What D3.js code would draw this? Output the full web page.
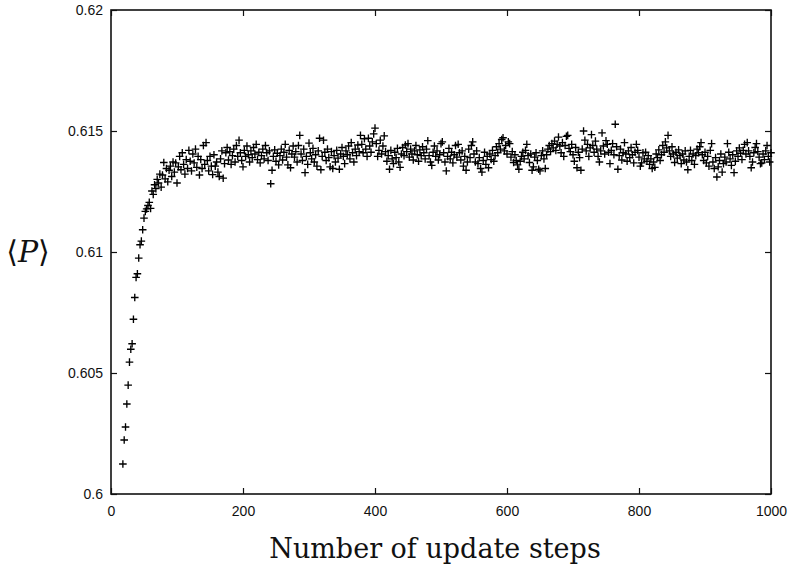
<!DOCTYPE html>
<html>
<head>
<meta charset="utf-8">
<script src="https://cdnjs.cloudflare.com/ajax/libs/d3/7.8.5/d3.min.js"></script>
<style>
    body { margin: 0; background: #fff; }
    .tick text { font-family: "Liberation Sans", Arial, sans-serif; font-size: 14px; fill: #111; }
    .label { font-family: "DejaVu Serif", "Liberation Serif", serif; fill: #111; }
</style>
</head>
<body>
<div class="chart"></div>
<script>
// chart values
var firstStep = 18,
    stepSize = 2;

var xTicks = [0, 200, 400, 600, 800, 1000];
var yTicks = [0.6, 0.605, 0.61, 0.615, 0.62];

// mean <P>, one value per sampled update step (18, 20, 22, ... 1000)
var pValues = [
    0.60124, 0.60223, 0.60277, 0.60372, 0.60450, 0.60545, 0.60598, 0.60621, 0.60722, 0.60812,
    0.60895, 0.60910, 0.60975, 0.61030, 0.61045, 0.61092, 0.61140, 0.61168, 0.61178, 0.61192,
    0.61205, 0.61180, 0.61252, 0.61238, 0.61278, 0.61262, 0.61300, 0.61285, 0.61322, 0.61268,
    0.61318, 0.61370, 0.61302, 0.61345, 0.61290, 0.61338, 0.61355, 0.61312, 0.61372, 0.61330,
    0.61368, 0.61285, 0.61352, 0.61395, 0.61340, 0.61410, 0.61362, 0.61322, 0.61382, 0.61345,
    0.61420, 0.61375, 0.61335, 0.61405, 0.61368, 0.61425, 0.61350, 0.61395, 0.61318, 0.61382,
    0.61345, 0.61440, 0.61362, 0.61452, 0.61378, 0.61335, 0.61395, 0.61355, 0.61320, 0.61402,
    0.61355, 0.61372, 0.61330, 0.61312, 0.61385, 0.61418, 0.61305, 0.61365, 0.61410, 0.61432,
    0.61380, 0.61415, 0.61362, 0.61398, 0.61425, 0.61372, 0.61440, 0.61395, 0.61462, 0.61410,
    0.61378, 0.61352, 0.61420, 0.61395, 0.61438, 0.61402, 0.61372, 0.61418, 0.61390, 0.61432,
    0.61405, 0.61445, 0.61382, 0.61412, 0.61368, 0.61398, 0.61425, 0.61385, 0.61440, 0.61410,
    0.61378, 0.61418, 0.61282, 0.61338, 0.61395, 0.61422, 0.61375, 0.61408, 0.61360, 0.61398,
    0.61425, 0.61380, 0.61412, 0.61445, 0.61392, 0.61360, 0.61420, 0.61348, 0.61405, 0.61438,
    0.61392, 0.61415, 0.61372, 0.61440, 0.61482, 0.61405, 0.61378, 0.61425, 0.61328, 0.61395,
    0.61362, 0.61450, 0.61410, 0.61385, 0.61428, 0.61372, 0.61402, 0.61355, 0.61418, 0.61470,
    0.61340, 0.61395, 0.61462, 0.61412, 0.61378, 0.61425, 0.61390, 0.61352, 0.61415, 0.61345,
    0.61398, 0.61372, 0.61420, 0.61388, 0.61342, 0.61405, 0.61432, 0.61395, 0.61365, 0.61418,
    0.61402, 0.61438, 0.61385, 0.61452, 0.61410, 0.61372, 0.61425, 0.61398, 0.61442, 0.61415,
    0.61482, 0.61445, 0.61410, 0.61468, 0.61425, 0.61395, 0.61470, 0.61438, 0.61412, 0.61455,
    0.61488, 0.61512, 0.61448, 0.61395, 0.61420, 0.61462, 0.61405, 0.61438, 0.61480, 0.61415,
    0.61375, 0.61398, 0.61342, 0.61420, 0.61385, 0.61365, 0.61412, 0.61390, 0.61428, 0.61372,
    0.61350, 0.61405, 0.61432, 0.61398, 0.61442, 0.61415, 0.61448, 0.61392, 0.61425, 0.61405,
    0.61380, 0.61418, 0.61440, 0.61402, 0.61375, 0.61422, 0.61398, 0.61435, 0.61410, 0.61385,
    0.61425, 0.61460, 0.61398, 0.61372, 0.61358, 0.61412, 0.61438, 0.61395, 0.61418, 0.61380,
    0.61402, 0.61448, 0.61455, 0.61410, 0.61372, 0.61335, 0.61395, 0.61428, 0.61385, 0.61412,
    0.61368, 0.61402, 0.61440, 0.61392, 0.61445, 0.61410, 0.61380, 0.61418, 0.61355, 0.61395,
    0.61338, 0.61372, 0.61425, 0.61390, 0.61440, 0.61455, 0.61405, 0.61372, 0.61418, 0.61365,
    0.61390, 0.61345, 0.61330, 0.61378, 0.61412, 0.61362, 0.61395, 0.61348, 0.61405, 0.61382,
    0.61420, 0.61375, 0.61398, 0.61435, 0.61410, 0.61448, 0.61425, 0.61465, 0.61472, 0.61418,
    0.61440, 0.61405, 0.61455, 0.61448, 0.61392, 0.61415, 0.61370, 0.61402, 0.61378, 0.61360,
    0.61342, 0.61375, 0.61395, 0.61412, 0.61385, 0.61420, 0.61445, 0.61398, 0.61370, 0.61405,
    0.61338, 0.61352, 0.61392, 0.61410, 0.61378, 0.61342, 0.61335, 0.61398, 0.61418, 0.61385,
    0.61345, 0.61402, 0.61425, 0.61440, 0.61415, 0.61448, 0.61430, 0.61458, 0.61420, 0.61445,
    0.61475, 0.61438, 0.61410, 0.61452, 0.61395, 0.61440, 0.61478, 0.61482, 0.61428, 0.61415,
    0.61445, 0.61402, 0.61375, 0.61432, 0.61348, 0.61412, 0.61390, 0.61338, 0.61425, 0.61500,
    0.61462, 0.61418, 0.61445, 0.61395, 0.61430, 0.61485, 0.61440, 0.61412, 0.61458, 0.61425,
    0.61395, 0.61372, 0.61418, 0.61492, 0.61438, 0.61405, 0.61460, 0.61445, 0.61412, 0.61365,
    0.61420, 0.61448, 0.61402, 0.61528, 0.61435, 0.61342, 0.61398, 0.61425, 0.61380, 0.61410,
    0.61452, 0.61405, 0.61375, 0.61418, 0.61390, 0.61432, 0.61402, 0.61368, 0.61412, 0.61445,
    0.61420, 0.61392, 0.61355, 0.61368, 0.61410, 0.61385, 0.61412, 0.61375, 0.61398, 0.61362,
    0.61385, 0.61345, 0.61372, 0.61350, 0.61405, 0.61390, 0.61422, 0.61378, 0.61402, 0.61440,
    0.61412, 0.61455, 0.61430, 0.61482, 0.61418, 0.61395, 0.61435, 0.61405, 0.61370, 0.61412,
    0.61388, 0.61422, 0.61398, 0.61365, 0.61405, 0.61380, 0.61418, 0.61372, 0.61340, 0.61395,
    0.61420, 0.61378, 0.61405, 0.61362, 0.61398, 0.61425, 0.61410, 0.61435, 0.61452, 0.61402,
    0.61378, 0.61412, 0.61368, 0.61395, 0.61355, 0.61420, 0.61448, 0.61372, 0.61345, 0.61390,
    0.61310, 0.61352, 0.61378, 0.61405, 0.61330, 0.61365, 0.61392, 0.61372, 0.61448, 0.61412,
    0.61385, 0.61358, 0.61402, 0.61328, 0.61375, 0.61418, 0.61395, 0.61430, 0.61408, 0.61382,
    0.61420, 0.61445, 0.61405, 0.61452, 0.61418, 0.61395, 0.61348, 0.61372, 0.61410, 0.61432,
    0.61448, 0.61415, 0.61392, 0.61365, 0.61368, 0.61405, 0.61382, 0.61418, 0.61440, 0.61395,
    0.61372, 0.61410
];

var margin = {top: 10, right: 19, bottom: 74, left: 111},
    width = 790 - margin.left - margin.right,
    height = 568 - margin.top - margin.bottom;

var x = d3.scaleLinear()
    .domain([0, 1000])
    .range([0, width]);

var y = d3.scaleLinear()
    .domain([0.6, 0.62])
    .range([height, 0]);

var data = pValues.map(function(p, i) {
    return {step: firstStep + i * stepSize, p: p};
});

var svg = d3.select(".chart").append("svg")
    .attr("width", 790)
    .attr("height", 568)
    .append("g")
    .attr("transform", "translate(" + margin.left + "," + margin.top + ")");

// axes: gnuplot style, ticks point inward and are mirrored on the opposite side
var xAxis = d3.axisBottom(x).tickValues(xTicks).tickSize(-6).tickPadding(12).tickFormat(d3.format("d"));
var yAxis = d3.axisLeft(y).tickValues(yTicks).tickSize(-6).tickPadding(14).tickFormat(function(d) { return d3.format("")(+d.toFixed(3)); });
var xTop = d3.axisTop(x).tickValues(xTicks).tickSize(-6).tickFormat("");
var yRight = d3.axisRight(y).tickValues(yTicks).tickSize(-6).tickFormat("");

svg.append("g").attr("class", "x axis").attr("transform", "translate(0," + height + ")").call(xAxis);
svg.append("g").attr("class", "y axis").call(yAxis);
svg.append("g").attr("class", "x2 axis").call(xTop);
svg.append("g").attr("class", "y2 axis").attr("transform", "translate(" + width + ",0)").call(yRight);

svg.selectAll(".axis .domain").remove();
svg.selectAll(".y.axis .tick text").attr("dx", 6);
svg.selectAll(".axis .tick line").attr("stroke", "#111").attr("stroke-width", 1.2);

svg.append("rect")
    .attr("width", width)
    .attr("height", height)
    .attr("fill", "none")
    .attr("stroke", "#111")
    .attr("stroke-width", 1.6);

// plus markers
var arm = 3.8;
svg.append("g")
    .attr("class", "points")
    .selectAll("path")
    .data(data)
    .enter().append("path")
    .attr("d", function(d) {
        var cx = x(d.step), cy = y(d.p);
        return "M" + (cx - arm) + "," + cy + "H" + (cx + arm) + "M" + cx + "," + (cy - arm) + "V" + (cy + arm);
    })
    .attr("stroke", "#000")
    .attr("stroke-width", 1.35)
    .attr("fill", "none");

// axis titles
svg.append("text")
    .attr("class", "label")
    .attr("x", width / 2 - 6)
    .attr("y", height + 64)
    .attr("text-anchor", "middle")
    .style("font-size", "27px")
    .text("Number of update steps");

var yLabel = svg.append("text")
    .attr("class", "label")
    .attr("x", -83)
    .attr("y", y(0.61) + 10)
    .attr("text-anchor", "middle")
    .style("font-size", "30px");
yLabel.append("tspan").text("\u27E8");
yLabel.append("tspan").style("font-style", "italic").text("P");
yLabel.append("tspan").text("\u27E9");
</script>
</body>
</html>
